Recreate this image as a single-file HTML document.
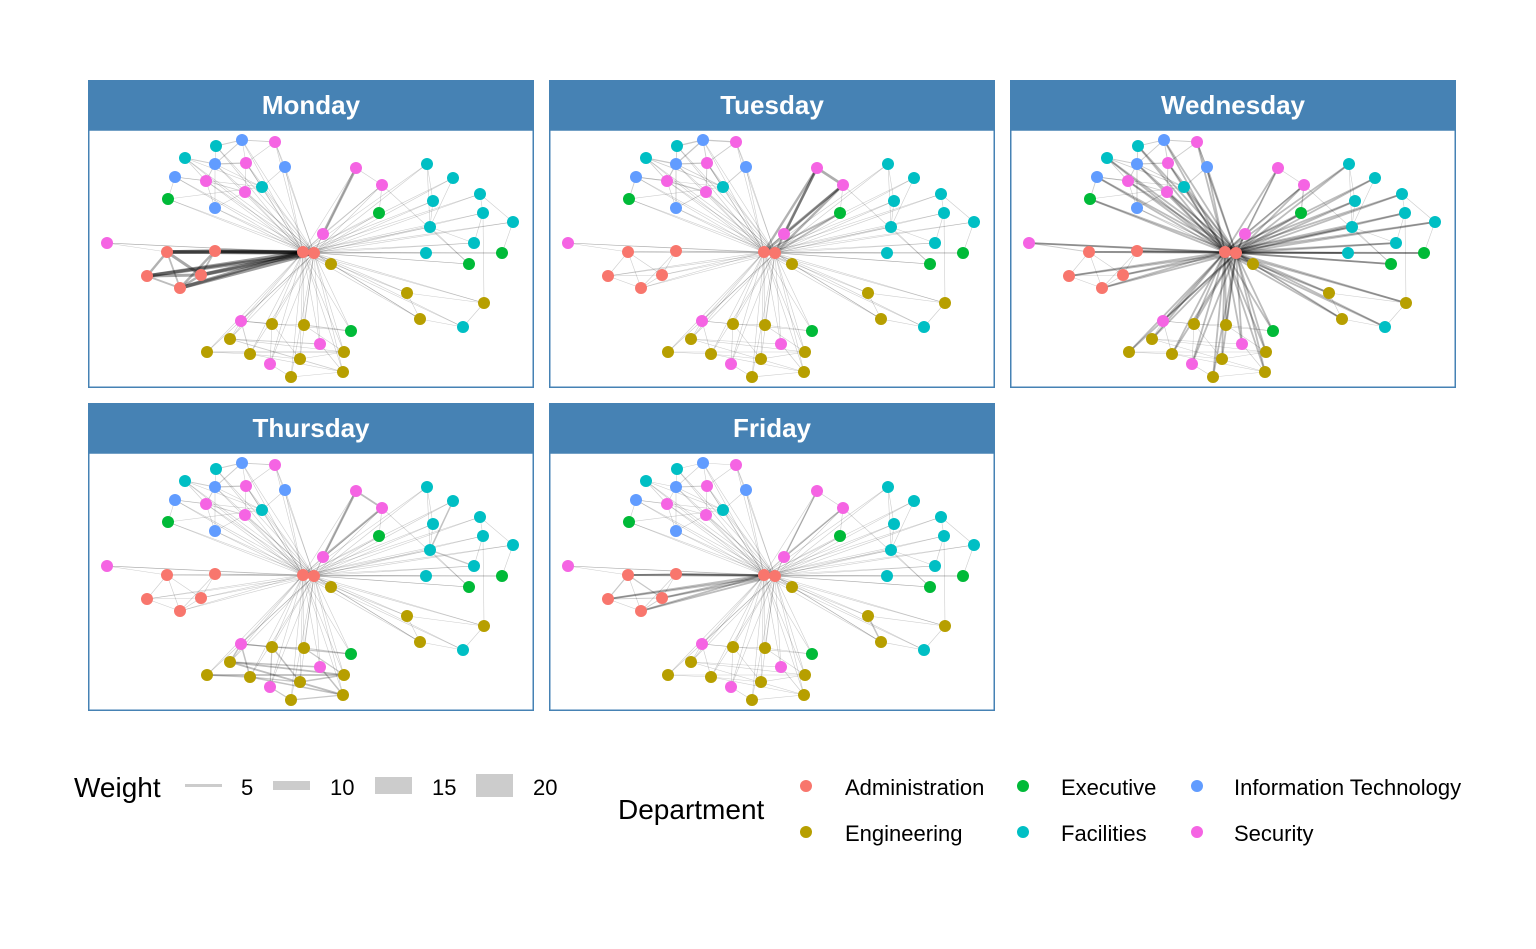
<!DOCTYPE html>
<html><head><meta charset="utf-8"><style>
body{margin:0;background:#fff;}
svg{display:block;font-family:"Liberation Sans",sans-serif;}
</style></head><body>
<svg id="chart" width="1536" height="949" viewBox="0 0 1536 949">
<g id="panels"></g>
<g id="legend">
  <text x="74" y="797" font-size="28" fill="#000">Weight</text>
  <rect x="185" y="784" width="37" height="3" fill="#cccccc"/>
  <text x="241" y="795" font-size="22">5</text>
  <rect x="273" y="781" width="37" height="9" fill="#cccccc"/>
  <text x="330" y="795" font-size="22">10</text>
  <rect x="375" y="777" width="37" height="17" fill="#cccccc"/>
  <text x="432" y="795" font-size="22">15</text>
  <rect x="476" y="774" width="37" height="23" fill="#cccccc"/>
  <text x="533" y="795" font-size="22">20</text>
  <text x="618" y="819" font-size="28">Department</text>
  <g font-size="22">
    <circle cx="806" cy="786" r="6" fill="#F8766D"/>
    <text x="845" y="795">Administration</text>
    <circle cx="806" cy="832" r="6" fill="#B79F00"/>
    <text x="845" y="841">Engineering</text>
    <circle cx="1023" cy="786" r="6" fill="#00BA38"/>
    <text x="1061" y="795">Executive</text>
    <circle cx="1023" cy="832" r="6" fill="#00BFC4"/>
    <text x="1061" y="841">Facilities</text>
    <circle cx="1197" cy="786" r="6" fill="#619CFF"/>
    <text x="1234" y="795">Information Technology</text>
    <circle cx="1197" cy="832" r="6" fill="#F564E3"/>
    <text x="1234" y="841">Security</text>
  </g>
</g>
</svg>
<script>
const days = ["Monday","Tuesday","Wednesday","Thursday","Friday"];
const deptColors = {A:"#F8766D",E:"#B79F00",X:"#00BA38",F:"#00BFC4",I:"#619CFF",S:"#F564E3"};
const nodeX = [128,154,187,97,127,158,197,87,118,174,157,80,127,268,294,291,235,339,365,392,345,395,425,342,386,338,414,381,19,79,127,59,113,92,215,226,243,319,396,332,375,153,184,216,263,142,232,119,162,212,256,182,203,255];
const nodeY = [16,10,12,28,34,33,37,47,51,57,62,69,78,38,55,83,104,34,48,64,71,83,92,97,113,123,123,134,113,122,121,146,145,158,122,123,134,163,173,189,197,191,194,195,201,209,214,222,224,229,222,234,247,242];
const nodeDept = "FISFISIISFSXISSXSFFFFFFFFFXXSAAAAAAAEEEEFSEEXESEEEESEE";
const pairs = [[0,1],[0,4],[1,2],[1,5],[2,5],[2,6],[3,4],[3,8],[4,5],[4,8],[4,9],[5,9],[5,10],[7,8],[7,11],[8,10],[8,12],[10,12],[4,12],[6,9],[3,9],[7,9],[11,9],[1,4],
[29,30],[29,31],[29,32],[31,32],[31,33],[32,33],[30,33],[28,29],[30,32],[29,33],
[13,16],[14,16],[14,15],[13,14],[14,27],[17,23],[18,23],[19,21],[21,24],[21,38],[23,24],[23,27],[22,26],[20,23],[25,26],[17,20],[19,22],
[37,39],[37,38],[39,40],[38,40],[36,39],
[41,42],[41,45],[42,43],[43,44],[41,44],[45,46],[45,50],[47,48],[48,49],[49,50],[42,51],[47,50],[48,53],[51,52],[52,53],[46,53],[41,48],[42,49],[43,50],[45,53]];
const pairW_mon = [3,2,3,2,2,1,3,2,4,3,2,3,2,2,2,3,1,2,2,2,2,1,1,3, 12,8,10,10,6,8,8,1,6,6, 9,1,1,1,1,1,1,1,1,1,1,2,1,1,1,1,1, 2,1,1,1,1, 3,2,2,3,2,3,2,2,2,2,2,3,2,2,2,2,3,2,2,3];
const pairW_tue = [4,3,4,3,3,2,4,3,4,4,3,4,3,3,3,4,2,3,3,3,3,2,2,4, 2,1,2,2,1,1,1,1,1,1, 9,9,2,9,1,1,1,2,1,1,1,1,2,1,1,1,1, 1,1,1,1,1, 1,1,2,2,1,1,2,1,1,1,1,1,1,1,1,1,1,1,1,2];
const pairW_wed = [3,3,3,3,3,2,3,3,4,3,3,3,3,3,3,3,2,3,3,3,3,2,2,3, 1,1,1,1,1,1,1,3,1,1, 3,4,4,2,1,1,1,1,1,1,1,1,1,1,1,1,1, 1,1,1,1,1, 1,1,1,1,1,1,1,1,1,1,1,1,1,1,1,1,1,1,1,1];
const pairW_thu = [3,2,3,2,2,1,3,2,4,3,2,3,2,2,2,3,1,2,2,2,2,1,1,3, 1,1,1,1,1,1,1,1,1,1, 8,7,1,6,1,1,5,1,1,1,4,1,1,1,1,1,1, 1,1,1,1,1, 4,5,4,3,4,5,6,5,4,5,4,6,5,4,4,5,5,5,4,6];
const pairW_fri = [2,2,2,2,2,1,2,2,3,2,2,2,2,2,2,2,1,2,2,2,2,1,1,2, 5,4,4,3,2,3,2,2,2,2, 5,5,1,2,1,2,2,1,2,1,1,1,1,2,1,1,2, 5,1,1,1,1, 2,2,2,2,2,2,2,2,2,2,2,2,2,2,2,2,2,2,2,2];
const hubW_mon = [1,1,1,1,1,1,1,1,1,1,1,1,1,1,1,1,1,1,1,1,1,1,1,1,1,1,1,1,1,12,12,12,12,12,0,0,1,1,1,1,1,1,1,1,1,1,1,1,1,1,1,1,1,1];
const hubW_tue = [1,2,1,2,2,1,1,2,2,1,1,1,1,8,8,6,2,1,1,1,1,1,1,1,1,1,1,1,1,2,2,2,1,1,0,0,1,2,2,2,1,2,2,2,1,2,1,2,2,2,1,2,1,1];
const hubW_wed = [6,6,6,6,6,6,6,6,6,6,6,6,3,6,6,6,6,6,6,6,6,6,6,6,6,6,6,6,6,6,6,6,6,6,0,0,6,6,6,6,6,6,6,6,6,6,6,6,6,6,6,6,6,6];
const hubW_thu = [1,1,1,1,1,1,1,1,1,1,1,1,1,1,1,1,1,1,1,2,1,2,1,2,1,1,1,1,1,2,1,1,1,1,0,0,1,1,1,1,1,1,1,1,1,1,1,1,1,1,1,1,1,1];
const hubW_fri = [1,1,1,1,1,1,1,1,1,1,1,1,1,1,1,1,1,1,1,1,1,1,1,1,1,1,1,1,1,6,6,6,6,6,0,0,1,1,1,1,1,1,1,1,1,1,1,1,1,1,1,1,1,1];
const hubs = [34,35];
const pairWeights = [pairW_mon,pairW_tue,pairW_wed,pairW_thu,pairW_fri];
const hubWeights = [hubW_mon,hubW_tue,hubW_wed,hubW_thu,hubW_fri];

const NS="http://www.w3.org/2000/svg";
const panelPos=[[88,80],[549,80],[1010,80],[88,403],[549,403]];
const PW=446, SH=50, BH=258;
const root=document.getElementById('panels');
function mk(t,a){const e=document.createElementNS(NS,t);for(const k in a)e.setAttribute(k,a[k]);return e;}
function ew(w){return Math.max(0.6,w*0.3);}
function eo(w){return Math.min(0.42,0.2+0.02*Math.max(0,w-3));}
days.forEach((d,i)=>{
  const [px,py]=panelPos[i];
  const g=mk('g',{});
  
  
  const strip=mk('rect',{x:px,y:py,width:PW,height:SH,fill:'#4682B4'});
  
  
  g.appendChild(strip);
  const t=mk('text',{x:px+PW/2,y:py+34,'text-anchor':'middle','font-size':26,'font-weight':'bold',fill:'#fff'});
  t.textContent=d;
  
  
  g.appendChild(t);
  const bx=px, by=py+SH;
  const body=mk('rect',{x:bx+0.75,y:by,width:PW-1.5,height:BH-0.75,fill:'#fff',stroke:'#4682B4','stroke-width':1.5});
  
  
  g.appendChild(body);
  const eg=mk('g',{'stroke-linecap':'round'});
  
  
  const pw=pairWeights[i];
  pairs.forEach((p,k)=>{
    const w=pw[k]; if(!w) return;
    const l=mk('line',{x1:bx+nodeX[p[0]],y1:by+nodeY[p[0]],x2:bx+nodeX[p[1]],y2:by+nodeY[p[1]],stroke:'#000','stroke-opacity':eo(w),'stroke-width':ew(w)});
    
    
    eg.appendChild(l);
  });
  const hw=hubWeights[i];
  hw.forEach((w,n)=>{
    if(!w) return;
    hubs.forEach(h=>{
      const l=mk('line',{x1:bx+nodeX[h],y1:by+nodeY[h],x2:bx+nodeX[n],y2:by+nodeY[n],stroke:'#000','stroke-opacity':eo(w),'stroke-width':ew(w)});
      
      
      eg.appendChild(l);
    });
  });
  g.appendChild(eg);
  const ng=mk('g',{});
  
  
  nodeX.forEach((x,n)=>{
    const c=mk('circle',{cx:bx+x,cy:by+nodeY[n],r:6,fill:deptColors[nodeDept[n]]});
    
    
    ng.appendChild(c);
  });
  g.appendChild(ng);
  root.appendChild(g);
});
</script>
</body></html>
